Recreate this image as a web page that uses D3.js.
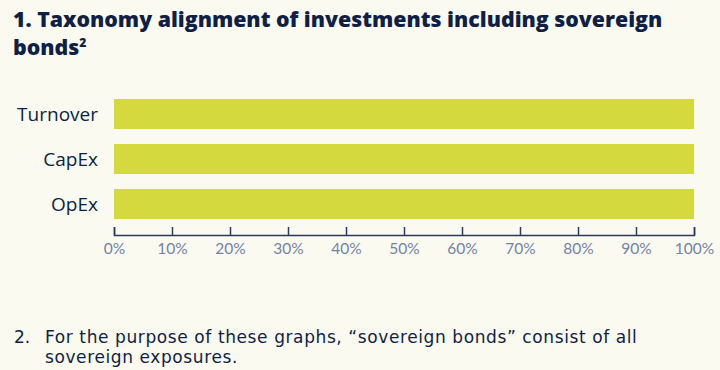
<!DOCTYPE html>
<html>
<head>
<meta charset="utf-8">
<script src="https://cdn.jsdelivr.net/npm/d3@7"></script>
<style>
  body { margin: 0; background: #fafaf0; }
  svg { display: block; }
</style>
</head>
<body>
<svg width="720" height="370"></svg>
<script>
var categories = ["Turnover", "CapEx", "OpEx"]
var values = [1.0, 1.0, 1.0]
var tickValues = [0, 0.1, 0.2, 0.3, 0.4, 0.5, 0.6, 0.7, 0.8, 0.9, 1.0]
var titleLines = ["1. Taxonomy alignment of investments including sovereign", "bonds"]
var footLines = ["For the purpose of these graphs, \u201csovereign bonds\u201d consist of all", "sovereign exposures."]

function main(){
	var svg = d3.select("svg")
	var navy = "#0f1f45"

	svg.append("rect").attr("width", 720).attr("height", 370).attr("fill", "#fafaf0")

	// Title
	var title = svg.append("text")
	.attr("font-family", "'Open Sans', sans-serif")
	.attr("font-weight", 800).attr("font-size", 21.3)
	.attr("fill", navy)
	title.append("tspan").attr("x", 13).attr("y", 27).text(titleLines[0])
	title.append("tspan").attr("x", 13).attr("y", 55).text(titleLines[1])
	title.append("tspan").attr("dy", -8).attr("font-size", 12).text("2")

	// Scales
	var xScale = d3.scaleLinear().domain([0, 1]).range([114, 694])
	var yScale = d3.scaleBand().domain(categories).range([99, 219]).paddingInner(1/3).paddingOuter(0)

	// Bars
	svg.selectAll("rect.bar").data(categories).enter().append("rect")
	.attr("class", "bar")
	.attr("x", xScale(0))
	.attr("y", d => yScale(d))
	.attr("width", (d, i) => xScale(values[i]) - xScale(0))
	.attr("height", yScale.bandwidth())
	.attr("fill", "#d4da3d")

	// Category labels
	svg.selectAll("text.cat").data(categories).enter().append("text")
	.attr("class", "cat")
	.attr("x", 98)
	.attr("y", d => yScale(d) + yScale.bandwidth() / 2)
	.attr("dy", "0.35em")
	.attr("text-anchor", "end")
	.attr("font-family", "'Open Sans', sans-serif")
	.attr("font-size", 19)
	.attr("fill", navy)
	.text(d => d)

	// X axis
	var xAxis = d3.axisBottom(xScale)
	.tickValues(tickValues)
	.tickFormat(d3.format(".0%"))
	.tickSizeInner(-8).tickSizeOuter(-8).tickPadding(8)

	var gx = svg.append("g").attr("transform", "translate(0,235)").call(xAxis)
	gx.select(".domain").attr("stroke", "#2a3a5c").attr("stroke-width", 1.5)
	gx.selectAll(".tick line").attr("stroke", "#2a3a5c").attr("stroke-width", 1.5)
	gx.selectAll(".tick text")
	.attr("font-family", "Lato, sans-serif")
	.attr("font-size", 15.5)
	.attr("fill", "#7482a6")

	// Footnote
	var foot = svg.append("g")
	.attr("font-family", "'DejaVu Sans', sans-serif")
	.attr("font-size", 17).attr("fill", navy)
	foot.append("text").attr("x", 14).attr("y", 343).text("2.")
	foot.selectAll("text.foot").data(footLines).enter().append("text")
	.attr("class", "foot")
	.attr("x", 45)
	.attr("y", (d, i) => 343 + i * 20)
	.attr("letter-spacing", 0.6)
	.text(d => d)
}

window.onload = function() {
  main()
};
</script>
</body>
</html>
